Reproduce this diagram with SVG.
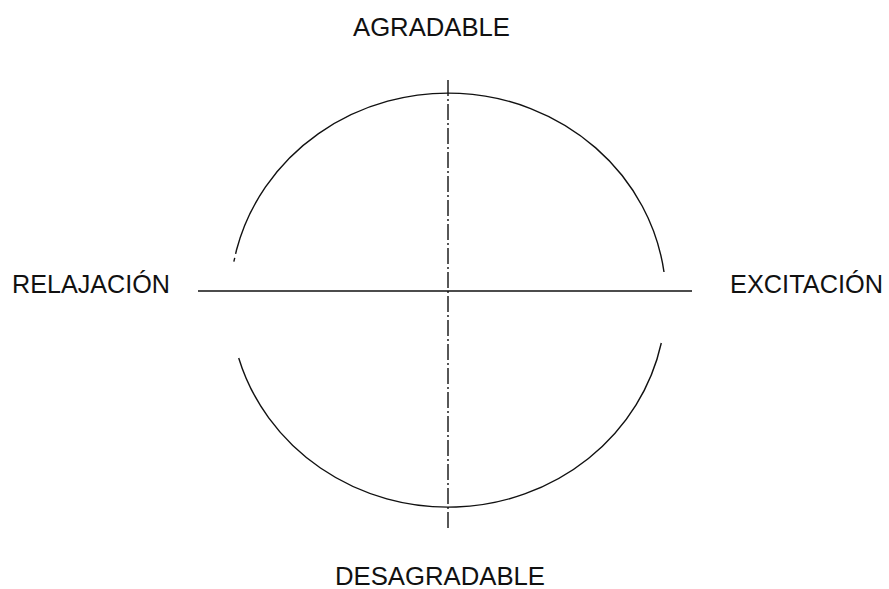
<svg xmlns="http://www.w3.org/2000/svg" width="889" height="589" viewBox="0 0 889 589">
<style>
.lbl{font-family:"Liberation Sans",Arial,sans-serif;font-size:25px;fill:#111}
.ln{fill:none;stroke:#111;stroke-width:1.4}
</style>
<rect width="889" height="589" fill="#fff"/>
<g id="connectors">
<path class="ln" d="M236.5,250 A218,207 0 0 1 664,272"/>
<path class="ln" d="M661.3,343 A218,207 0 0 1 238.7,358"/>
<path class="ln" stroke-dasharray="4,4" d="M236.5,250 L233.1,265"/>
<path class="ln" d="M198,291 L692,291" stroke-width="1.6"/>
<path class="ln" stroke-dasharray="16,3,2,3" d="M448,80 L448,530"/>
</g>
<g id="agradable"><text class="lbl" x="353" y="36" textLength="157" lengthAdjust="spacingAndGlyphs">AGRADABLE</text></g>
<g id="relajacion"><text class="lbl" x="12" y="293" textLength="158" lengthAdjust="spacingAndGlyphs">RELAJACIÓN</text></g>
<g id="excitacion"><text class="lbl" x="730" y="293" textLength="153" lengthAdjust="spacingAndGlyphs">EXCITACIÓN</text></g>
<g id="desagradable"><text class="lbl" x="335" y="585" textLength="210" lengthAdjust="spacingAndGlyphs">DESAGRADABLE</text></g>
</svg>
